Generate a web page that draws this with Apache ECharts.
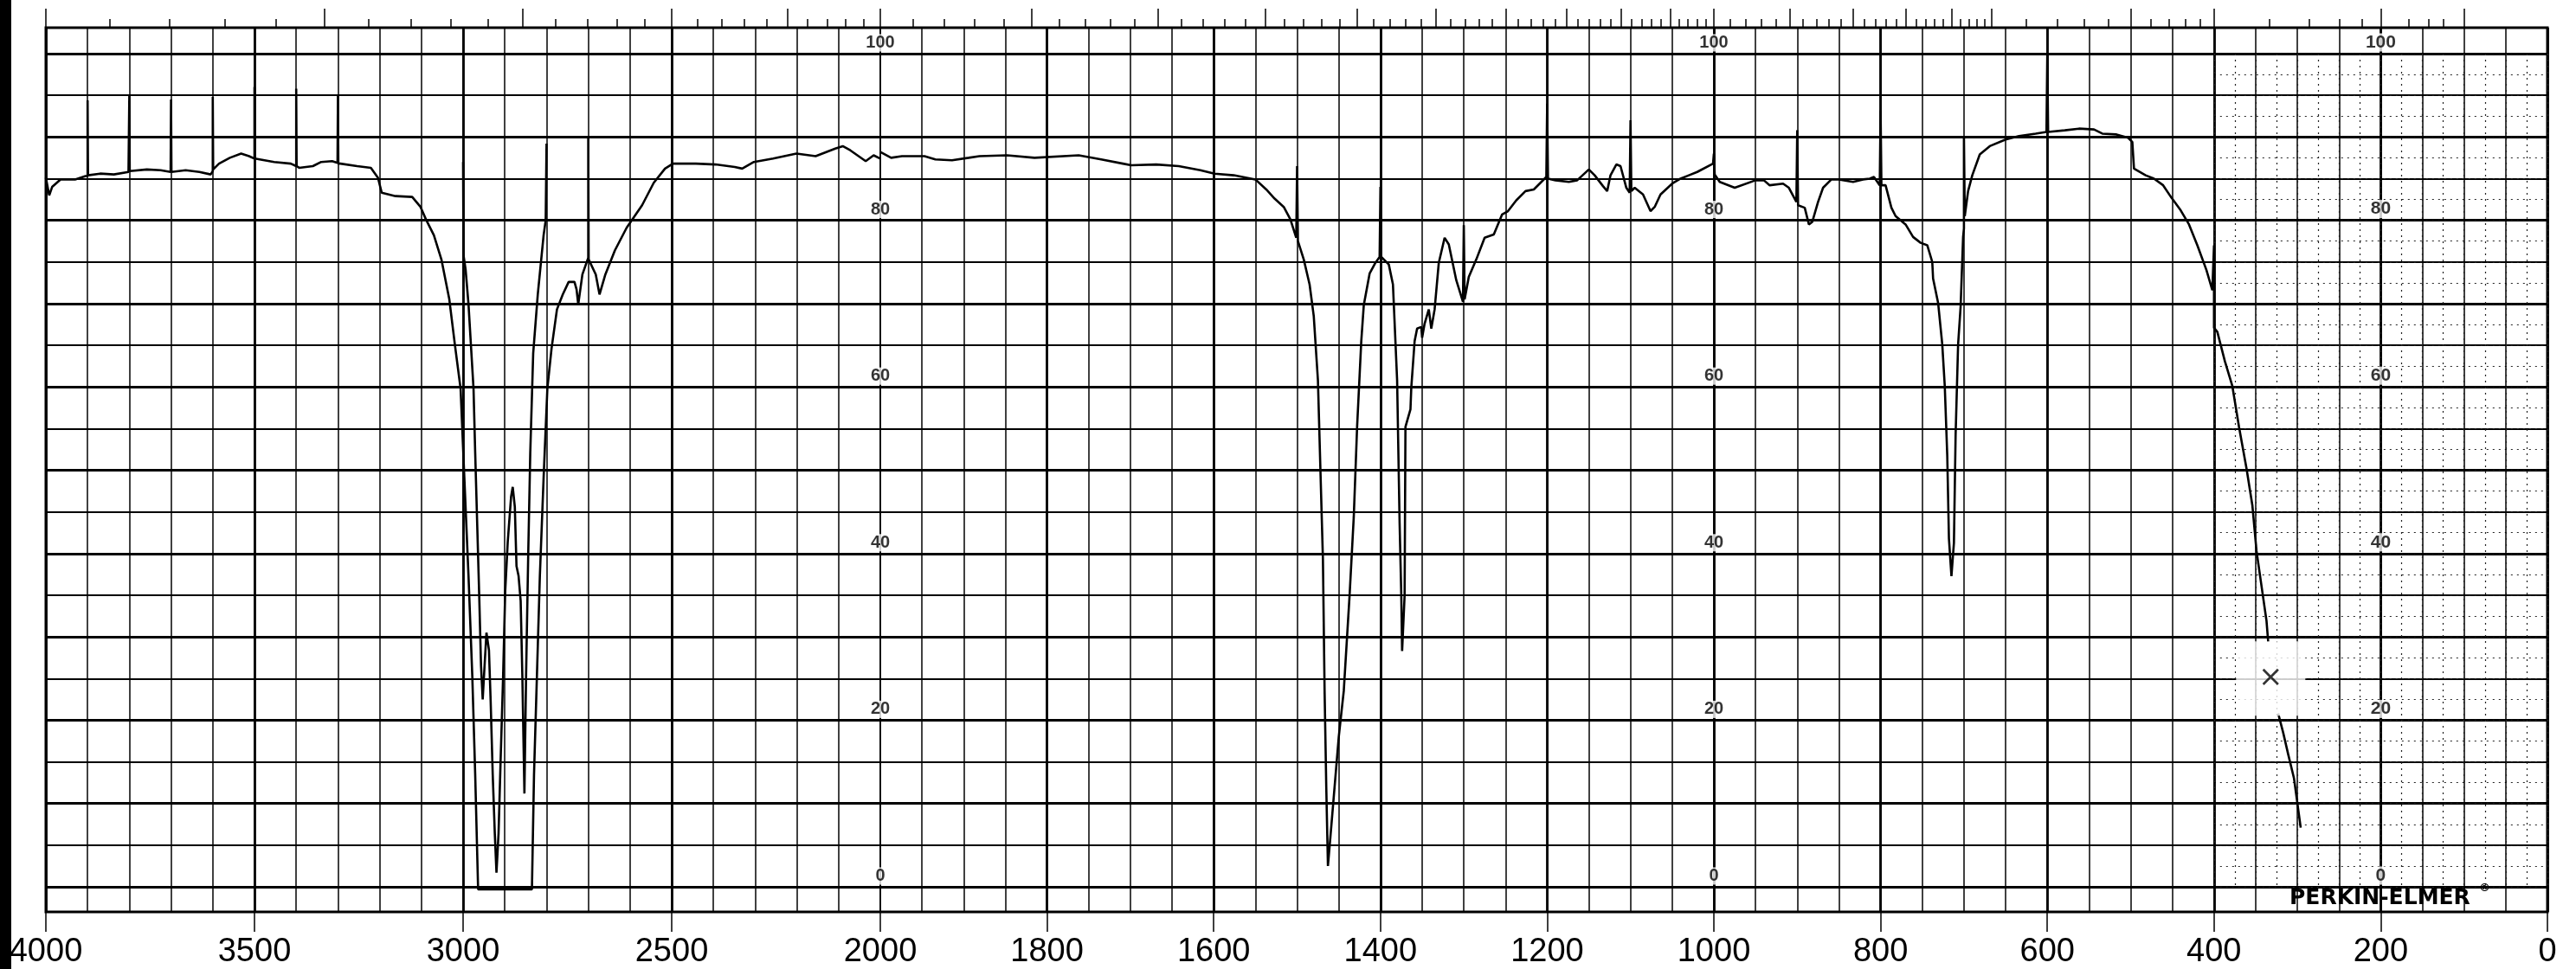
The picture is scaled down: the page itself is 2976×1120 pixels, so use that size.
<!DOCTYPE html>
<html>
<head>
<meta charset="utf-8">
<title>IR spectrum</title>
<script src="https://cdn.jsdelivr.net/npm/echarts@6/dist/echarts.min.js"></script>
<style>
  html, body { margin: 0; padding: 0; background: #fff; }
  #chart { width: 2976px; height: 1120px; }
</style>
</head>
<body>
<div id="chart"></div>
<script>
// chart paper layout (px)
const W = 2976
const PLOT_LEFT = 53
const PLOT_RIGHT = 2943
const SPLIT_X = 1017 // 2000 cm-1, scale doubles to the right
const FRAME_TOP = 32
const FRAME_BOTTOM = 1054
const Y100 = 62
const Y0 = 1025

// y range of the data grids so that 0 % and 100 % land on the printed rules
const yMin = -(FRAME_BOTTOM - Y0) / (Y0 - Y100) * 100
const yMax = 100 + (Y100 - FRAME_TOP) / (Y0 - Y100) * 100

// %T scale printed on the paper
const scaleColumns = [2000, 1000]
const scaleColumnFar = [200]
const scaleValues = [0, 20, 40, 60, 80, 100]

// wavelength (micron) ticks along the top edge
const micronTicks = [
  2.5, 2.6, 2.7, 2.8, 2.9, 3.0, 3.1, 3.2, 3.3, 3.4, 3.5, 3.6, 3.7, 3.8, 3.9,
  4.0, 4.1, 4.2, 4.3, 4.4, 4.5, 4.6, 4.7, 4.8, 4.9, 5.0,
  5.1, 5.2, 5.3, 5.4, 5.5, 5.6, 5.7, 5.8, 5.9, 6.0, 6.1, 6.2, 6.3, 6.4, 6.5,
  6.6, 6.7, 6.8, 6.9, 7.0, 7.1, 7.2, 7.3, 7.4, 7.5, 7.6, 7.7, 7.8, 7.9, 8.0,
  8.1, 8.2, 8.3, 8.4, 8.5, 8.6, 8.7, 8.8, 8.9, 9.0, 9.1, 9.2, 9.3, 9.4, 9.5,
  9.6, 9.7, 9.8, 9.9, 10.0,
  10.2, 10.4, 10.6, 10.8, 11, 11.2, 11.4, 11.6, 11.8, 12, 12.2, 12.4, 12.6,
  12.8, 13, 13.2, 13.4, 13.6, 13.8, 14, 14.2, 14.4, 14.6, 14.8, 15,
  16, 17, 18, 19, 20, 21, 22, 23, 24, 25, 30, 35, 40, 45, 50, 60, 70, 80, 100
]
const micronMajor = [2.5, 3, 3.5, 4, 4.5, 5, 5.5, 6, 6.5, 7, 7.5, 8, 8.5, 9, 9.5,
  10, 11, 12, 13, 14, 15, 20, 25, 50, 100]

// main pen trace, 4000 -> 2000 cm-1  [wavenumber, %T]
const baselineScan = [
  [4000, 85.1], [3992, 83.0], [3985, 84.0], [3965, 84.9], [3930, 84.9], [3905, 85.3],
  [3900, 85.3], [3900, 94.4], [3899, 85.4], [3870, 85.6], [3837, 85.5], [3802, 85.8],
  [3800, 85.8], [3800, 94.9], [3799, 85.9], [3758, 86.1], [3725, 86.0], [3701, 85.8],
  [3700, 85.8], [3700, 94.5], [3699, 85.8], [3665, 86.0], [3632, 85.8], [3605, 85.5],
  [3600, 85.9], [3600, 94.8], [3599, 86.1], [3585, 86.8], [3559, 87.5], [3532, 88.0],
  [3513, 87.7], [3500, 87.4], [3500, 96.0], [3499, 87.4], [3453, 87.0], [3413, 86.8],
  [3400, 86.5], [3400, 95.8], [3399, 86.5], [3393, 86.3], [3360, 86.5], [3340, 87.0],
  [3314, 87.1], [3301, 86.9], [3300, 86.9], [3300, 95.0], [3299, 86.8], [3294, 86.8],
  [3254, 86.5], [3221, 86.3], [3204, 85.1], [3195, 83.3],
  [3162, 82.9], [3122, 82.8], [3102, 81.6], [3089, 80.1], [3070, 78.2], [3052, 75.3],
  [3033, 70.5], [3020, 65.2], [3006, 59.8], [2997, 49.1], [2987, 37.3], [2978, 25.4],
  [2971, 13.5], [2964, -0.3], [2835, -0.3], [2830, 13.5], [2823, 25.4], [2816, 37.3],
  [2807, 49.1], [2798, 59.8], [2788, 64.6], [2775, 69.3], [2761, 71.1], [2747, 72.6],
  [2733, 72.6], [2728, 71.7], [2724, 69.9], [2714, 73.5], [2700, 75.5], [2700, 90.0],
  [2699, 75.3], [2682, 73.5], [2673, 71.1], [2659, 73.5], [2636, 76.4], [2608, 79.1],
  [2571, 81.8], [2543, 84.5], [2516, 86.2], [2497, 86.8], [2442, 86.8], [2395, 86.7],
  [2349, 86.4], [2331, 86.2], [2303, 87.0], [2257, 87.4], [2201, 88.0], [2155, 87.7],
  [2108, 88.6], [2090, 88.9], [2072, 88.4], [2035, 87.1], [2016, 87.8], [2000, 87.4]
]

// resolved C-H stretch region, run separately on the same sheet
const chRescan = [
  [3000, 87.0], [2999, 75.8], [2994, 74.1], [2987, 69.9], [2980, 64.0], [2975, 59.8],
  [2971, 52.1], [2966, 43.2], [2961, 34.3], [2957, 26.5], [2953, 22.5], [2948, 27.0],
  [2944, 30.5], [2938, 28.4], [2934, 22.4], [2929, 13.5], [2924, 6.4], [2920, 1.7],
  [2915, 6.4], [2910, 15.3], [2904, 25.4], [2899, 35.5], [2893, 41.4], [2885, 46.8],
  [2881, 48.0], [2876, 45.6], [2872, 38.5], [2867, 37.3], [2862, 34.3], [2858, 25.4],
  [2853, 11.2], [2849, 25.4], [2844, 39.6], [2839, 52.1], [2832, 64.0], [2821, 71.1],
  [2807, 78.2], [2802, 80.0], [2800, 80.0], [2800, 89.2]
]

// main pen trace, 2000 -> 335 cm-1
const fingerprintScan = [
  [2000, 88.2], [1987, 87.5], [1974, 87.7], [1947, 87.7], [1934, 87.3], [1914, 87.2],
  [1894, 87.5], [1881, 87.7], [1848, 87.8], [1815, 87.5], [1762, 87.8], [1735, 87.3],
  [1709, 86.8], [1699, 86.6], [1669, 86.7], [1642, 86.5], [1616, 86.0], [1599, 85.6],
  [1576, 85.4], [1550, 84.9], [1537, 83.7], [1527, 82.6], [1516, 81.6], [1508, 80.1],
  [1501, 77.9], [1500, 77.9], [1500, 86.5], [1499, 77.5], [1492, 75.3], [1485, 72.3],
  [1480, 68.5], [1475, 60.8], [1472, 50.0], [1469, 39.3], [1467, 23.5], [1465, 12.0],
  [1463, 2.5], [1460, 6.0], [1455, 12.0], [1450, 18.0], [1444, 23.5], [1437, 35.0],
  [1432, 44.4], [1428, 55.2], [1423, 65.5], [1420, 69.8], [1413, 73.6], [1406, 74.9],
  [1401, 75.6], [1400, 75.6], [1400, 84.0], [1399, 75.6], [1390, 74.7], [1385, 72.3],
  [1380, 60.8], [1377, 43.6], [1375, 35.0], [1374, 28.3], [1371, 35.0], [1370, 55.2],
  [1364, 57.3], [1363, 59.9], [1359, 65.5], [1356, 67.0], [1351, 67.2], [1350, 65.9],
  [1347, 67.6], [1342, 69.3], [1339, 67.0], [1335, 69.3], [1330, 74.9], [1323, 77.9],
  [1318, 77.1], [1309, 72.8], [1301, 70.2], [1300, 70.2], [1300, 79.4], [1299, 70.5],
  [1294, 73.2], [1285, 75.3], [1275, 77.9], [1264, 78.3], [1254, 80.7], [1247, 81.1],
  [1237, 82.4], [1226, 83.5], [1216, 83.7], [1201, 85.2], [1200, 85.2], [1200, 94.0],
  [1199, 85.0], [1190, 84.8], [1174, 84.6], [1164, 84.8], [1150, 86.1], [1143, 85.4],
  [1133, 84.1], [1128, 83.5], [1124, 85.4], [1117, 86.7], [1112, 86.5], [1105, 83.9],
  [1101, 83.3], [1100, 83.3], [1100, 92.0], [1099, 83.5], [1095, 83.9], [1085, 83.1],
  [1076, 81.1], [1071, 81.6], [1064, 83.1], [1050, 84.4], [1040, 85.0], [1030, 85.4],
  [1020, 85.8], [1001, 86.8], [1000, 88.0], [999, 85.5], [993, 84.6], [975, 83.9],
  [950, 84.8], [940, 84.8], [933, 84.2], [917, 84.4], [910, 83.9], [901, 82.2],
  [900, 82.2], [900, 90.8], [899, 81.8], [891, 81.5], [886, 79.5], [882, 79.8],
  [875, 82.2], [869, 83.9], [859, 84.9], [850, 84.9], [833, 84.6], [821, 84.9],
  [813, 85.0], [808, 85.2], [801, 84.2], [800, 84.2], [800, 93.2], [799, 84.2],
  [794, 84.2], [787, 81.5], [782, 80.5], [770, 79.5], [761, 78.0], [752, 77.3],
  [744, 77.0], [738, 75.0], [737, 73.0], [731, 70.1], [726, 65.1], [723, 60.1],
  [720, 51.7], [718, 41.8], [715, 37.3], [712, 41.3], [710, 54.2], [707, 65.1],
  [704, 69.6], [701, 78.0], [700, 79.0], [700, 90.0], [699, 80.5], [695, 83.5],
  [690, 85.4], [681, 87.9], [669, 88.9], [650, 89.7], [634, 90.1], [614, 90.4],
  [601, 90.6], [600, 90.6], [600, 99.8], [599, 90.6], [579, 90.8], [562, 91.0],
  [544, 90.9], [534, 90.4], [517, 90.3], [503, 89.9], [498, 89.4], [496, 86.2],
  [482, 85.4], [472, 85.0], [461, 84.2], [451, 82.7], [440, 81.2], [430, 79.5],
  [420, 77.0], [409, 74.0], [402, 71.6], [400, 77.0], [400, 67.1], [396, 66.6],
  [387, 63.1], [378, 60.1], [370, 55.2], [361, 50.2], [354, 45.8], [349, 40.3],
  [342, 35.4], [337, 31.9], [335, 29.4]
]

// trace resumes below the cross-off box
const farIrTail = [
  [323, 20.8], [317, 18.5], [311, 15.9], [304, 13.0], [296, 7.1]
]

// cross-off mark on the sheet
const crossMark = [[332, 25.0]]

const chart = echarts.init(document.getElementById('chart'))

const toWavenumber = um => 10000 / um
const ticksIn = (list, lo, hi) => list.map(toWavenumber).filter(v => v >= lo && v <= hi)

const minorLeft = SPLIT_X + (2000 - 400) / 2000 * (PLOT_RIGHT - SPLIT_X)

const thin = { color: '#000', width: 1.5 }
const thick = { color: '#000', width: 2.8 }
const labelFont = "'Liberation Sans Narrow', 'Liberation Sans', sans-serif"

const hiddenAxis = (gridIndex, min, max) => ({
  type: 'value', gridIndex, min, max, show: false
})

const splitAxis = (gridIndex, min, max, interval, style) => ({
  type: 'value', gridIndex, min, max, interval, inverse: true,
  axisLine: { show: false }, axisTick: { show: false }, axisLabel: { show: false },
  splitLine: { show: true, lineStyle: style }
})

const topTickAxis = (gridIndex, min, max, values, length) => ({
  type: 'value', gridIndex, min, max, inverse: true, position: 'top',
  axisLine: { show: false },
  axisLabel: { show: false },
  splitLine: { show: false },
  axisTick: { show: true, inside: false, length, customValues: values, lineStyle: { color: '#000', width: 1.5 } }
})

const labelAxis = (gridIndex, min, max, interval, extraLabel, extraSplit) => ({
  type: 'value', gridIndex, min, max, interval, inverse: true, position: 'bottom',
  axisLine: { show: false },
  axisTick: { show: true, inside: false, length: 23, interval: 0, lineStyle: { color: '#000', width: 1.5 } },
  axisLabel: Object.assign({
    show: true, interval: 0, margin: 28, color: '#000', fontSize: 38, fontFamily: labelFont,
    formatter: v => String(v)
  }, extraLabel),
  splitLine: Object.assign({ show: true, lineStyle: thick }, extraSplit)
})

const scaleLabel = (far) => ({
  show: true, position: 'top', distance: 2,
  formatter: p => String(p.value[1]),
  color: '#000', fontSize: far ? 21 : 20, fontWeight: 'bold',
  fontFamily: far ? labelFont : "'Liberation Sans', sans-serif",
  backgroundColor: '#fff', padding: [0, 1]
})

const pen = { color: '#000', width: 2.6 }

const option = {
  backgroundColor: '#ffffff',
  animation: false,
  graphic: [
    { type: 'rect', left: 0, top: 0, shape: { width: 13, height: 1120 }, style: { fill: '#000' } },
    { type: 'text', left: 2645, top: 1026, z: 10,
      style: { text: 'PERKIN-ELMER', font: 'bold 25px "DejaVu Sans"', fill: '#000' } },
    { type: 'text', left: 2864, top: 1020, z: 10,
      style: { text: '®', font: 'bold 13px "DejaVu Sans"', fill: '#000' } }
  ],
  grid: [
    { left: PLOT_LEFT, right: W - PLOT_RIGHT, top: FRAME_TOP, bottom: 1120 - FRAME_BOTTOM,
      show: true, borderColor: '#000', borderWidth: 3 },
    { left: PLOT_LEFT, right: W - PLOT_RIGHT, top: Y100, bottom: 1120 - Y0 },
    { left: PLOT_LEFT, right: W - SPLIT_X, top: FRAME_TOP, bottom: 1120 - FRAME_BOTTOM },
    { left: SPLIT_X, right: W - PLOT_RIGHT, top: FRAME_TOP, bottom: 1120 - FRAME_BOTTOM },
    { left: minorLeft, right: W - PLOT_RIGHT, top: Y100, bottom: 1120 - Y0 }
  ],
  xAxis: [
    hiddenAxis(0, 0, 1),
    hiddenAxis(1, 0, 1),
    splitAxis(2, 2000, 4000, 100, thin),
    labelAxis(2, 2000, 4000, 500, { showMinLabel: true }, { showMinLine: false }),
    topTickAxis(2, 2000, 4000, ticksIn(micronTicks, 2000, 4000), 10),
    topTickAxis(2, 2000, 4000, ticksIn(micronMajor, 2000, 4000), 22),
    splitAxis(3, 0, 2000, 50, thin),
    labelAxis(3, 0, 2000, 200, { showMaxLabel: false, showMinLabel: true }, { showMaxLine: false }),
    topTickAxis(3, 0, 2000, ticksIn(micronTicks, 0, 1999), 10),
    topTickAxis(3, 0, 2000, ticksIn(micronMajor, 0, 1999), 22),
    splitAxis(4, 0, 400, 25, { color: '#222', width: 1.2, type: [2, 5] })
  ],
  yAxis: [
    hiddenAxis(0, 0, 1),
    { type: 'value', gridIndex: 1, min: 0, max: 100, interval: 5,
      axisLine: { show: false }, axisTick: { show: false }, axisLabel: { show: false },
      splitLine: { show: true, lineStyle: { color: '#000', width: 2.2 } } },
    { type: 'value', gridIndex: 1, min: 0, max: 100, interval: 10,
      axisLine: { show: false }, axisTick: { show: false }, axisLabel: { show: false },
      splitLine: { show: true, lineStyle: { color: '#000', width: 2.9 } } },
    hiddenAxis(2, yMin, yMax),
    hiddenAxis(3, yMin, yMax),
    { type: 'value', gridIndex: 4, min: 0, max: 100, interval: 2.5,
      axisLine: { show: false }, axisTick: { show: false }, axisLabel: { show: false },
      splitLine: { show: true, lineStyle: { color: '#222', width: 1.2, type: [2, 5] } } }
  ],
  series: [
    { name: 'scan 4000-2000', type: 'line', xAxisIndex: 2, yAxisIndex: 3, data: baselineScan,
      showSymbol: false, symbol: 'none', lineStyle: pen, z: 5 },
    { name: 'C-H rescan', type: 'line', xAxisIndex: 2, yAxisIndex: 3, data: chRescan,
      showSymbol: false, symbol: 'none', lineStyle: pen, z: 5 },
    { name: 'scan 2000-335', type: 'line', xAxisIndex: 6, yAxisIndex: 4, data: fingerprintScan,
      showSymbol: false, symbol: 'none', lineStyle: pen, z: 5 },
    { name: 'far IR tail', type: 'line', xAxisIndex: 6, yAxisIndex: 4, data: farIrTail,
      showSymbol: false, symbol: 'none', lineStyle: pen, z: 5 },
    { name: '%T scale', type: 'scatter', xAxisIndex: 6, yAxisIndex: 4, silent: true, z: 6,
      data: scaleColumns.flatMap(x => scaleValues.map(v => [x, v])),
      symbolSize: 1, itemStyle: { color: 'rgba(0,0,0,0)' }, label: scaleLabel(false) },
    { name: '%T scale far', type: 'scatter', xAxisIndex: 6, yAxisIndex: 4, silent: true, z: 6,
      data: scaleColumnFar.flatMap(x => scaleValues.map(v => [x, v])),
      symbolSize: 1, itemStyle: { color: 'rgba(0,0,0,0)' }, label: scaleLabel(true) },
    { name: 'cross', type: 'scatter', xAxisIndex: 6, yAxisIndex: 4, silent: true, z: 7,
      data: crossMark, symbol: 'rect', symbolSize: [80, 86],
      itemStyle: { color: '#fff' },
      label: { show: true, position: 'inside', formatter: '×', fontSize: 34, color: '#000',
        fontFamily: "'DejaVu Sans', sans-serif" } }
  ]
}

chart.setOption(option)
</script>
</body>
</html>
